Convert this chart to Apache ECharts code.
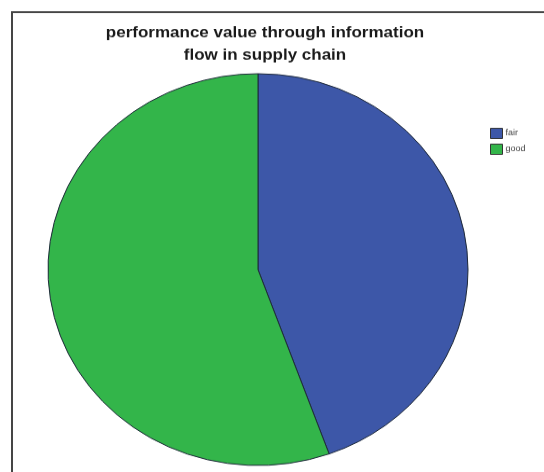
<!DOCTYPE html>
<html>
<head>
<meta charset="utf-8">
<script src="https://cdn.jsdelivr.net/npm/echarts@6/dist/echarts.min.js"></script>
<style>
  html, body { margin: 0; padding: 0; background: #fff; overflow: hidden; }
  #wrap { width: 544px; height: 472px; overflow: hidden; position: relative; }
  /* chart is drawn taller and squeezed vertically so the pie becomes an ellipse */
  #chart { width: 544px; height: 506px; transform: scaleY(0.9328); transform-origin: 0 0; }
</style>
</head>
<body>
<div id="wrap"><div id="chart"></div></div>
<script>
const categories = ['fair', 'good'];
const percentValues = [44.5, 55.5];
const sliceColors = ['#3d57a8', '#33b54a'];

const chart = echarts.init(document.getElementById('chart'), null, { renderer: 'canvas' });

const pieData = categories.map((name, i) => ({
  name: name,
  value: percentValues[i],
  itemStyle: { color: sliceColors[i] }
}));

chart.setOption({
  backgroundColor: '#ffffff',
  animation: false,
  title: {
    text: 'performance value through information\nflow in supply chain',
    left: 260,
    textAlign: 'center',
    top: 19,
    textStyle: {
      fontFamily: 'Liberation Sans, Arial, sans-serif',
      fontWeight: 'bold',
      fontSize: 17,
      lineHeight: 23.5,
      color: '#1a1a1a'
    }
  },
  legend: {
    orient: 'vertical',
    left: 490,
    top: 137,
    padding: 0,
    itemWidth: 12,
    itemHeight: 11,
    itemGap: 5,
    icon: 'rect',
    data: categories,
    textStyle: {
      fontFamily: 'Liberation Sans, Arial, sans-serif',
      fontSize: 9,
      color: '#444',
      padding: [0, 0, 0, -2]
    },
    itemStyle: { borderColor: '#333', borderWidth: 1 }
  },
  graphic: [{
    type: 'rect',
    shape: { x: 12, y: 13, width: 600, height: 600 },
    style: { fill: 'none', stroke: '#454545', lineWidth: 2 },
    z: 0
  }],
  series: [{
    type: 'pie',
    center: [258, 289],
    radius: 210,
    startAngle: 90,
    clockwise: true,
    label: { show: false },
    labelLine: { show: false },
    emphasis: { disabled: true },
    itemStyle: { borderColor: '#1f2a3a', borderWidth: 1 },
    data: pieData
  }]
});
</script>
</body>
</html>
